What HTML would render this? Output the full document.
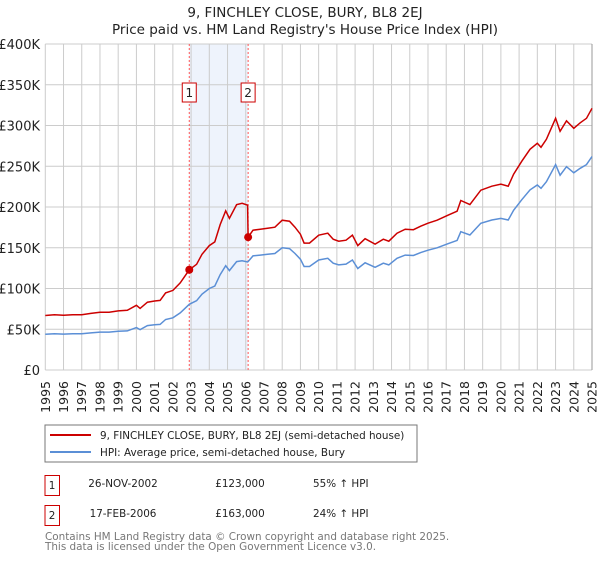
<!DOCTYPE html>
<html><head><meta charset="utf-8"><style>
body{margin:0;background:#fff;font-family:"Liberation Sans","DejaVu Sans",sans-serif;}
svg text{font-family:"DejaVu Sans","Liberation Sans",sans-serif;}
</style></head><body>
<svg id="chart" width="600" height="560" viewBox="0 0 600 560">
<text x="305" y="17" font-size="13.5" text-anchor="middle" fill="#222">9, FINCHLEY CLOSE, BURY, BL8 2EJ</text>
<text x="305" y="34" font-size="13.5" text-anchor="middle" fill="#222">Price paid vs. HM Land Registry's House Price Index (HPI)</text>
<g id="plot"></g>
<rect x="45" y="425" width="372" height="37" fill="#fff" stroke="#777"/>
<line x1="50" y1="435" x2="91" y2="435" stroke="#cc0000" stroke-width="2"/>
<text x="100" y="439" font-size="10.4" fill="#222">9, FINCHLEY CLOSE, BURY, BL8 2EJ (semi-detached house)</text>
<line x1="50" y1="452" x2="91" y2="452" stroke="#5b8fd6" stroke-width="2"/>
<text x="100" y="456" font-size="10.4" fill="#222">HPI: Average price, semi-detached house, Bury</text>
<g>
<rect x="45" y="475.5" width="14.5" height="20" fill="#fff" stroke="#cc0000"/>
<text x="52" y="489" font-size="10.4" text-anchor="middle" fill="#222">1</text>
<text x="123" y="487" font-size="10.4" text-anchor="middle" fill="#222">26-NOV-2002</text>
<text x="240" y="487" font-size="10.4" text-anchor="middle" fill="#222">£123,000</text>
<text x="313" y="487" font-size="10.4" fill="#222">55% ↑ HPI</text>
</g>
<g>
<rect x="45" y="505.5" width="14.5" height="20" fill="#fff" stroke="#cc0000"/>
<text x="52" y="519" font-size="10.4" text-anchor="middle" fill="#222">2</text>
<text x="123" y="517" font-size="10.4" text-anchor="middle" fill="#222">17-FEB-2006</text>
<text x="240" y="517" font-size="10.4" text-anchor="middle" fill="#222">£163,000</text>
<text x="313" y="517" font-size="10.4" fill="#222">24% ↑ HPI</text>
</g>
<text x="45" y="540" font-size="10.4" fill="#777">Contains HM Land Registry data © Crown copyright and database right 2025.</text>
<text x="45" y="550" font-size="10.4" fill="#777">This data is licensed under the Open Government Licence v3.0.</text>
</svg>
<script>
const hpiYears=[1995,1995.5,1996,1996.5,1997,1997.5,1998,1998.5,1999,1999.5,2000,2000.2,2000.6,2001,2001.3,2001.6,2002,2002.4,2002.9,2003.3,2003.6,2004,2004.3,2004.6,2004.9,2005.1,2005.5,2005.8,2006.1,2006.13,2006.4,2006.8,2007.2,2007.6,2008,2008.4,2008.7,2009,2009.2,2009.5,2010,2010.5,2010.8,2011.1,2011.5,2011.85,2012.15,2012.55,2013.1,2013.55,2013.85,2014.3,2014.75,2015.2,2015.6,2016,2016.5,2017.1,2017.6,2017.8,2018.3,2018.9,2019.5,2020,2020.4,2020.7,2021.15,2021.6,2022,2022.2,2022.5,2023,2023.25,2023.6,2024,2024.35,2024.7,2025];
const hpiValues=[43.8,44.5,44,44.5,44.5,45.5,46.5,46.5,47.5,48,52,49.5,54.5,55.5,56,62,64,70,80.6,85,93,100,103,117,128,122,133,134,132.5,133,140,141,142,143,150,149,143,136,127,127,135,137,131,129,130,135,124.5,131.5,126,131,129,137,141,140.5,144,147,150,155,159,169.7,165.6,180,184,186,184,196,209,221,227,223,231,252,239,249.5,242,247.5,252,262];
const saleDates=[2002.9,2006.13];
const salePrices=[123,163];
const saleLabels=["1","2"];
const yTicks=[0,50,100,150,200,250,300,350,400];
const yTickLabels=["£0","£50K","£100K","£150K","£200K","£250K","£300K","£350K","£400K"];
const xTicks=[1995,1996,1997,1998,1999,2000,2001,2002,2003,2004,2005,2006,2007,2008,2009,2010,2011,2012,2013,2014,2015,2016,2017,2018,2019,2020,2021,2022,2023,2024,2025];

const X=y=>45.3+(y-1995)*(592-45.3)/30;
const Y=v=>370-v*326/400;
const NS="http://www.w3.org/2000/svg";
const g=document.getElementById('plot');
function mk(t,a){const e=document.createElementNS(NS,t);for(const k in a)e.setAttribute(k,a[k]);g.appendChild(e);return e;}
function hpiAt(t){for(let i=0;i<hpiYears.length-1;i++){if(t>=hpiYears[i]&&t<=hpiYears[i+1]){const f=(t-hpiYears[i])/(hpiYears[i+1]-hpiYears[i]);return hpiValues[i]+f*(hpiValues[i+1]-hpiValues[i]);}}return hpiValues[hpiValues.length-1];}

let sh=mk('rect',{x:X(saleDates[0]),y:Y(400),width:X(saleDates[1])-X(saleDates[0]),height:Y(0)-Y(400),fill:'#eef3fc'});


yTicks.forEach((v,i)=>{
 let l=mk('line',{x1:45.3,x2:592,y1:Y(v),y2:Y(v),stroke:'#cccccc','stroke-width':1});
 
 
 let t=mk('text',{x:40,y:Y(v)+5,'font-size':13,'text-anchor':'end',fill:'#222'});
 t.textContent=yTickLabels[i];
 
 
});
xTicks.forEach(yr=>{
 let l=mk('line',{x1:X(yr),x2:X(yr),y1:Y(400),y2:Y(0),stroke:yr===2025?'#999':'#cccccc','stroke-width':1});
 
 
 let t=mk('text',{x:0,y:0,'font-size':12.5,'text-anchor':'end',fill:'#222',transform:`translate(${X(yr)+4.5},381) rotate(-90)`});
 t.textContent=String(yr);
 
 
});
saleDates.forEach((d,i)=>{
 let l=mk('line',{x1:X(d),x2:X(d),y1:Y(400),y2:Y(0),stroke:'#ff5555','stroke-width':1,'stroke-dasharray':'2,2'});
 
 
 let r=mk('rect',{x:X(d)-7,y:83,width:14,height:19,fill:'#fff',stroke:'#cc0000'});
 
 
 let t=mk('text',{x:X(d),y:97,'font-size':12,'text-anchor':'middle',fill:'#222'});
 t.textContent=saleLabels[i];
 
 
});
let hp=hpiYears.map((t,i)=>X(t).toFixed(1)+','+Y(hpiValues[i]).toFixed(1)).join(' ');
let hl=mk('polyline',{points:hp,fill:'none',stroke:'#5b8fd6','stroke-width':1.5});


const r1=salePrices[0]/hpiAt(saleDates[0]), r2=salePrices[1]/hpiAt(saleDates[1]);
let rp=hpiYears.map((t,i)=>{const r=t<saleDates[1]?r1:r2;return X(t).toFixed(1)+','+Y(hpiValues[i]*r).toFixed(1);}).join(' ');
let rl=mk('polyline',{points:rp,fill:'none',stroke:'#cc0000','stroke-width':1.5});


saleDates.forEach((d,i)=>{
 let c=mk('circle',{cx:X(d),cy:Y(salePrices[i]),r:4,fill:'#cc0000'});
 
 
});
</script>
</body></html>
